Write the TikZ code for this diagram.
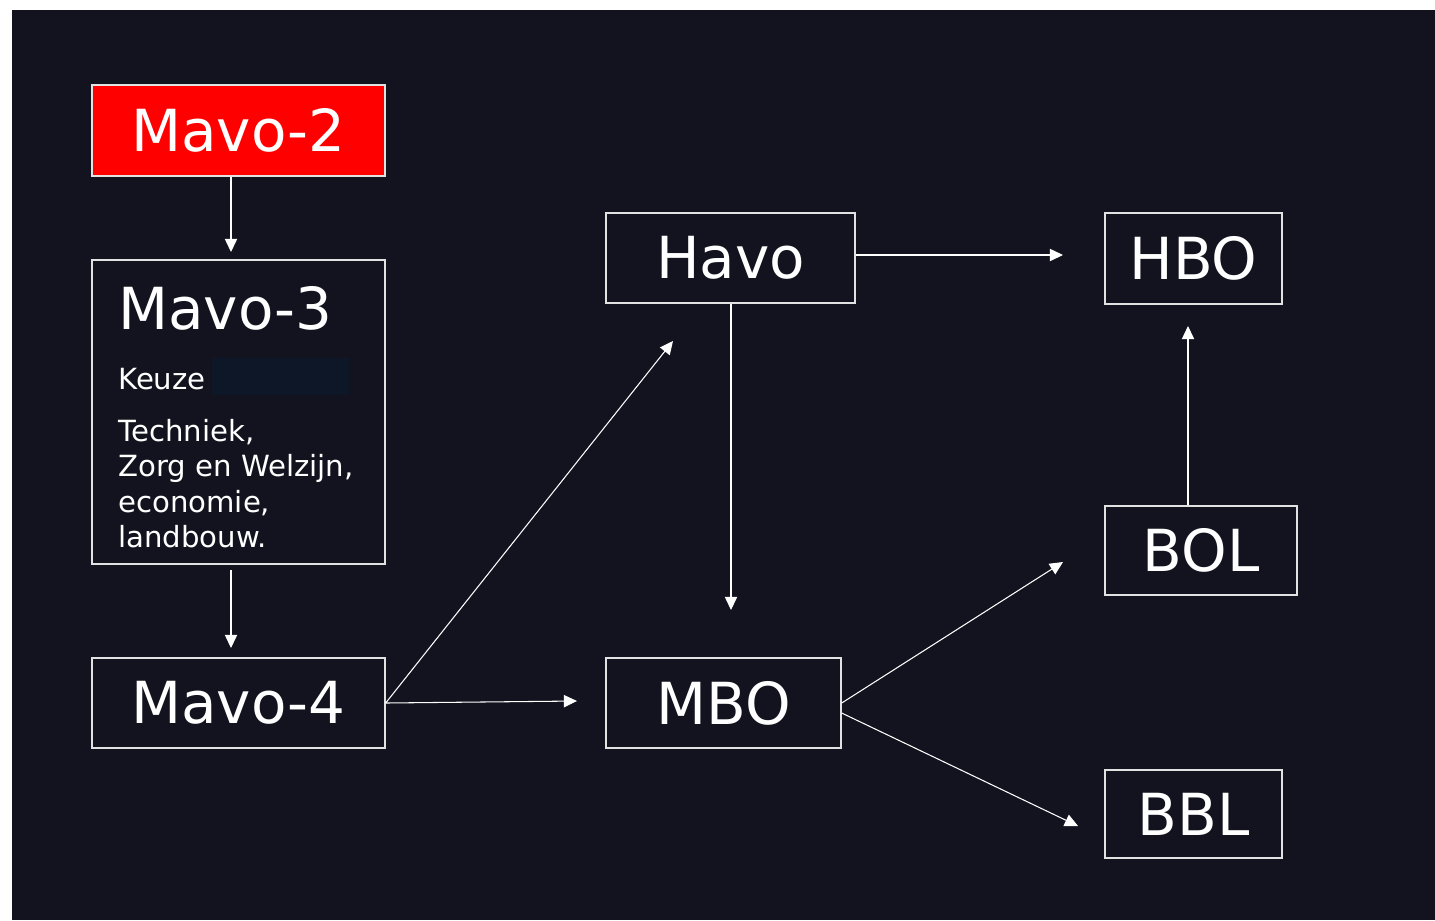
\documentclass[tikz,border=0pt]{standalone}
\usepackage{fontspec}
\setmainfont{DejaVu Sans}
\usetikzlibrary{arrows.meta,calc}
\definecolor{slide}{HTML}{12131F}
\definecolor{hidden}{HTML}{0E1728}
\definecolor{frame}{HTML}{E2E2E2}
\definecolor{mavored}{HTML}{FF0000}

\begin{document}
\begin{tikzpicture}[x=0.02cm, y=-0.02cm,
                    big text/.style={text=white, font=\fontsize{33}{39}\selectfont},
                    small text/.style={text=white, inner sep=0pt, font=\fontsize{16.6}{20.1}\selectfont},
                    box node/.style={draw=frame, line width=0.8pt, inner sep=0pt, big text},
                    arrow line/.style={color=white, line width=0.6pt, -{Triangle[length=7.5pt,width=7pt]}}]
    \useasboundingbox (0,0) rectangle (1435,920);
    \fill[white] (0,0) rectangle (1435,920);
    \fill[slide] (12,10) rectangle (1435,920);

    % left column
    \node[box node, fill=mavored, minimum width=5.86cm, minimum height=1.82cm] (m2) at (238.5,130.5) {Mavo-2};
    \node[box node, minimum width=5.86cm, minimum height=6.08cm] (m3) at (238.5,412) {};
    \node[big text, anchor=base west, inner sep=0pt] (m3title) at (118,329) {Mavo-3};
    \node[small text, anchor=base west] (keuze) at (118,389) {Keuze};
    \fill[hidden] (212,358) rectangle (349,395);
    \node[small text, anchor=north west, align=left] (choices) at (118,419) {Techniek,\\Zorg en Welzijn,\\economie,\\landbouw.};
    \node[box node, minimum width=5.86cm, minimum height=1.80cm] (m4) at (238.5,703) {Mavo-4};

    % middle and right
    \node[box node, minimum width=4.98cm, minimum height=1.80cm] (havo) at (730.5,258) {Havo};
    \node[box node, minimum width=4.70cm, minimum height=1.80cm] (mbo) at (723.5,703) {MBO};
    \node[box node, minimum width=3.54cm, minimum height=1.82cm] (hbo) at (1193.5,258.5) {HBO};
    \node[box node, minimum width=3.84cm, minimum height=1.78cm] (bol) at (1201,550.5) {BOL};
    \node[box node, minimum width=3.54cm, minimum height=1.76cm] (bbl) at (1193.5,814) {BBL};

    % arrow tips
    \coordinate (inM3) at (231,252);
    \coordinate (inM4) at (231,648);
    \coordinate (inMBOa) at (577,701);
    \coordinate (inHavo) at (673,341);
    \coordinate (inHBOa) at (1063,255);
    \coordinate (inMBOb) at (731,610);
    \coordinate (inBOL) at (1063,562);
    \coordinate (inBBL) at (1078,826);
    \coordinate (inHBOb) at (1188,326);

    \path[arrow line]
        (m2.south -| inM3) edge (inM3)
        (m3.south -| inM4) edge[shorten <=3pt] (inM4)
        (m4.east) edge (inMBOa)
                  edge (inHavo)
        (havo.east |- inHBOa) edge (inHBOa)
        (havo.south -| inMBOb) edge (inMBOb)
        (mbo.east) edge (inBOL)
        ($(mbo.east)+(0,10)$) edge (inBBL)
        (bol.north -| inHBOb) edge (inHBOb);
\end{tikzpicture}
\end{document}
